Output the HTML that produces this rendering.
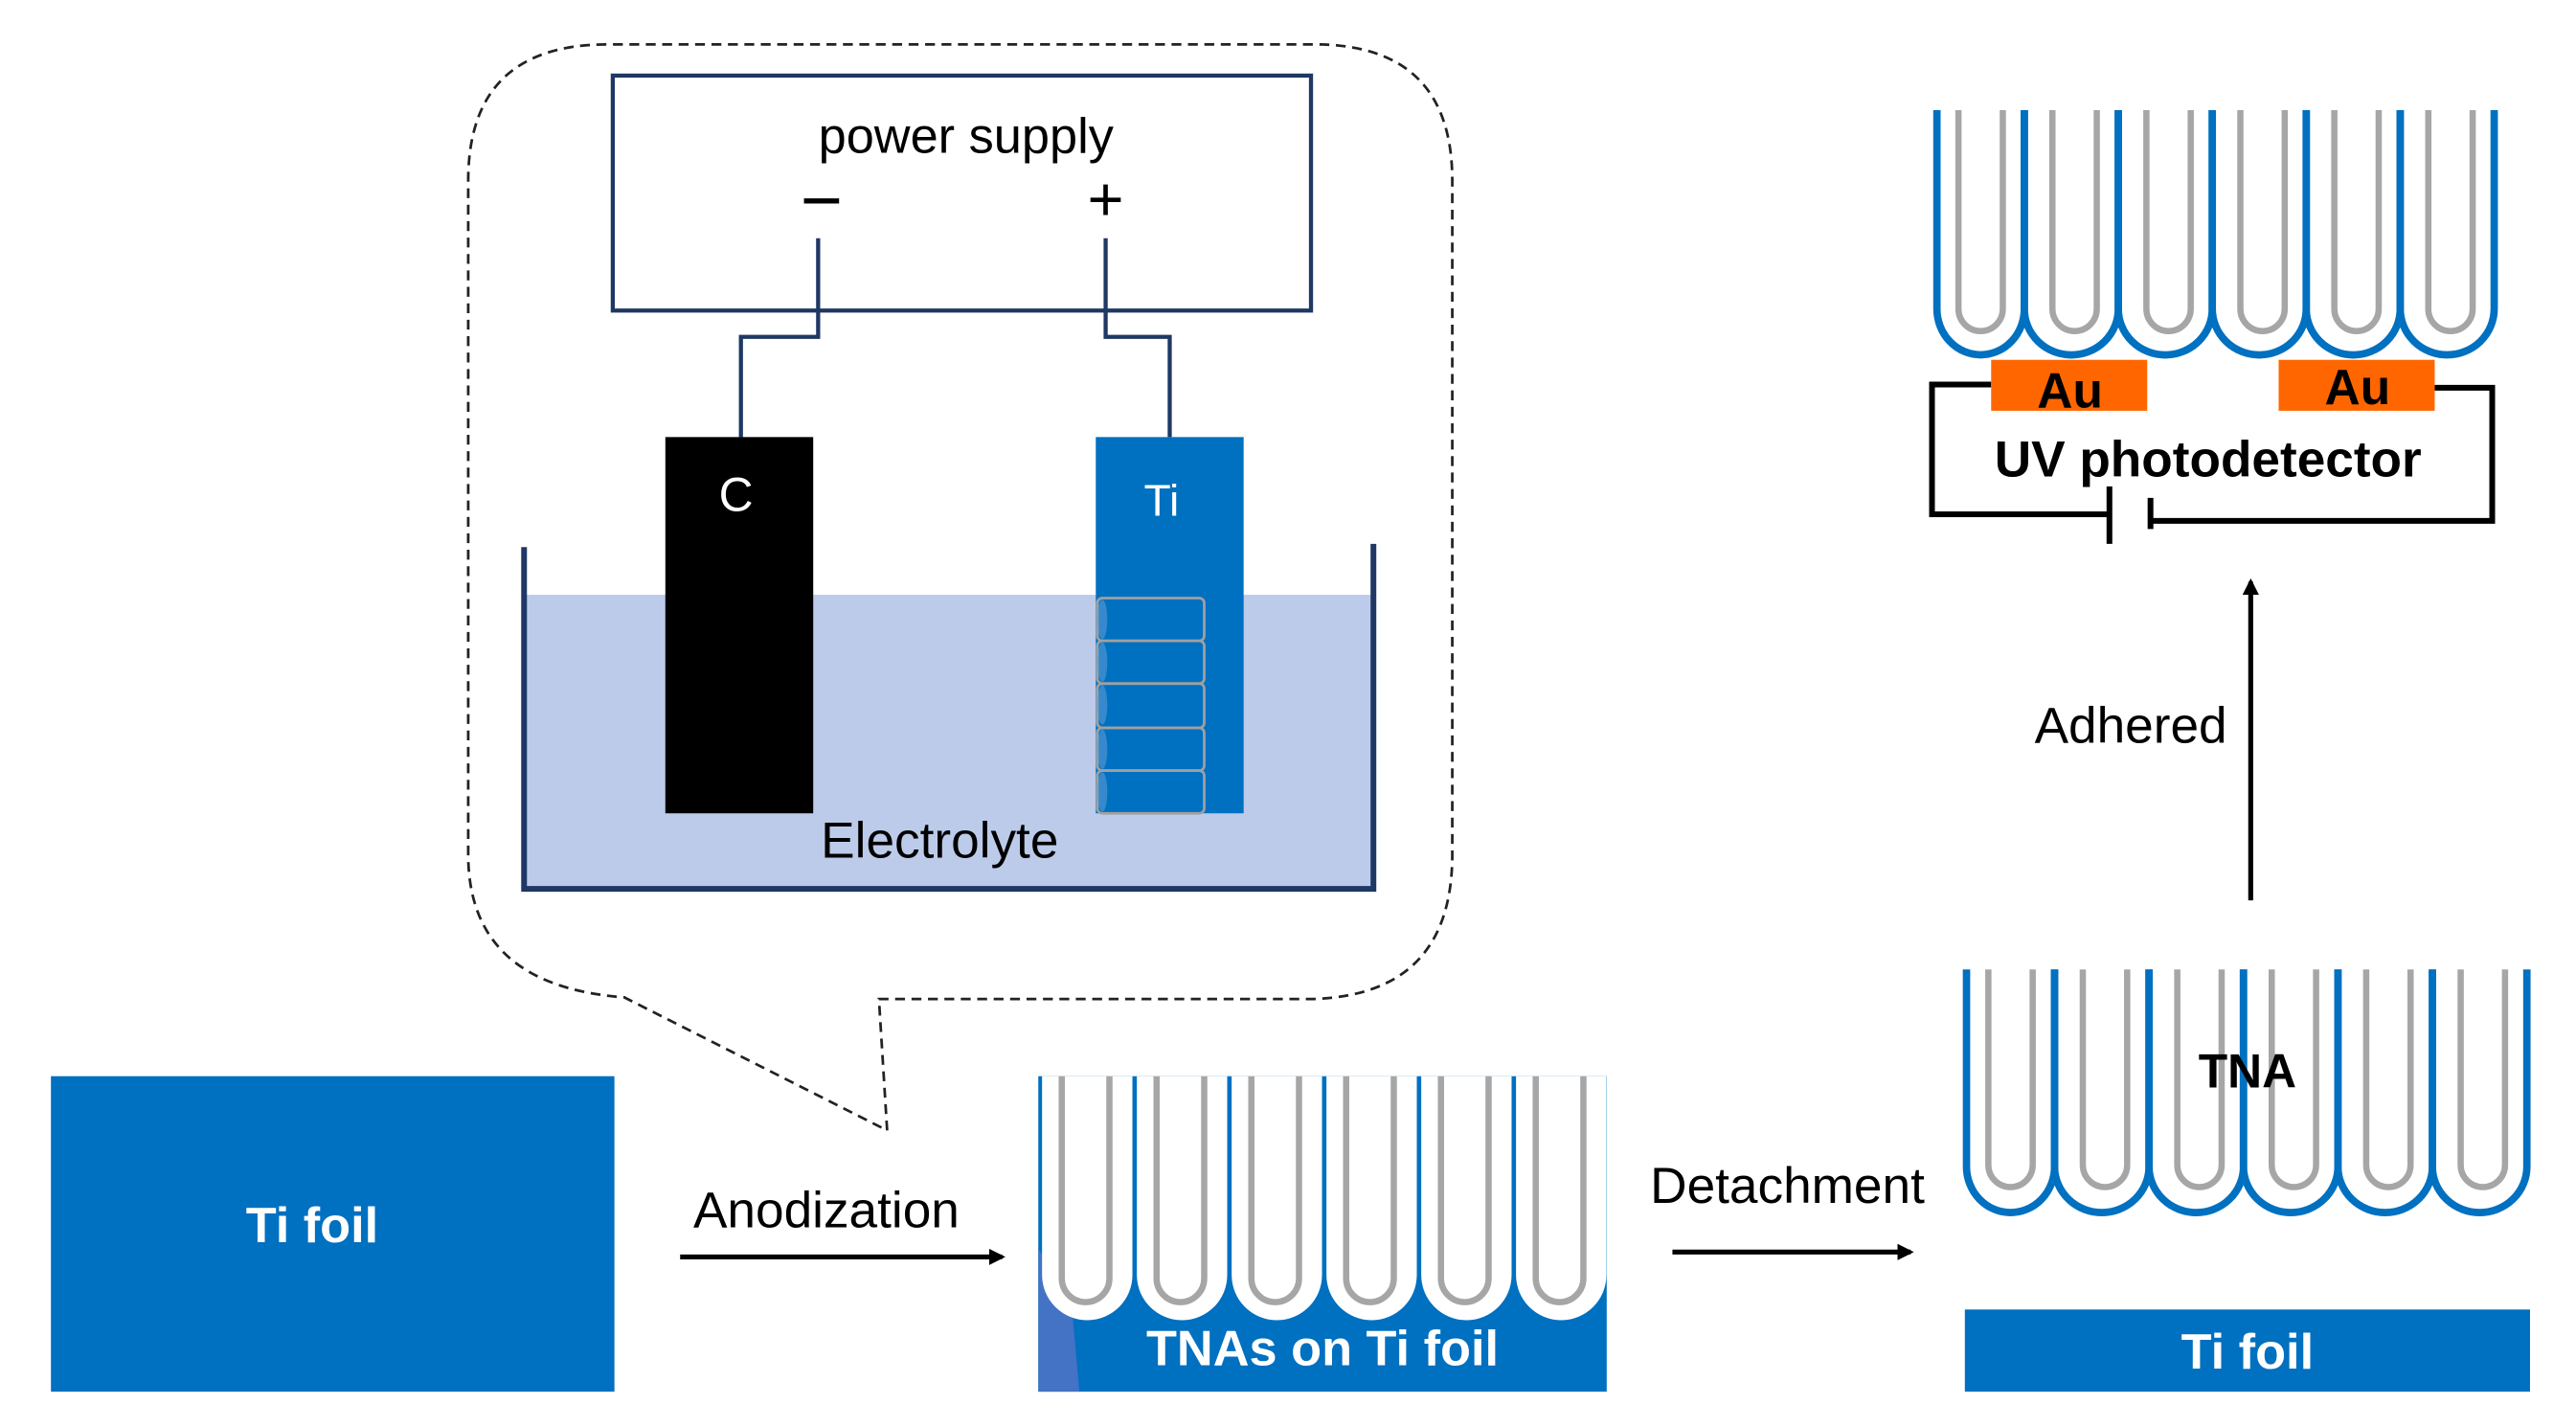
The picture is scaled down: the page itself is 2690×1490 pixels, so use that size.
<!DOCTYPE html>
<html><head><meta charset="utf-8"><style>
html,body{margin:0;padding:0;background:#fff;}
svg{display:block;}
text{font-family:"Liberation Sans",Arial,sans-serif;}
</style></head><body>
<svg width="2690" height="1490" viewBox="0 0 1568 868.5" xmlns="http://www.w3.org/2000/svg">
<defs>
<marker id="ah" markerWidth="10" markerHeight="10" refX="8" refY="5" orient="auto" markerUnits="userSpaceOnUse"><path d="M0,0 L10,5 L0,10 Z" fill="#000"/></marker>
</defs>
<rect width="1568" height="868.5" fill="#fff"/>

<!-- callout -->
<path d="M540,688 L535,608 L800,608 Q884,605 884,520 L884,110 Q884,27 800,27 L370,27 Q285,27 285,110 L285,520 Q285,600 380,607 Z" fill="none" stroke="#222" stroke-width="1.6" stroke-dasharray="6,4"/>

<!-- power supply -->
<rect x="373" y="46" width="425" height="143" fill="none" stroke="#1f3864" stroke-width="2.5"/>
<text x="588" y="93" font-size="30.5" text-anchor="middle">power supply</text>
<text x="500" y="137" font-size="44" text-anchor="middle">−</text>
<text x="673" y="134" font-size="38" text-anchor="middle">+</text>
<polyline points="498,145 498,205 451,205 451,266" fill="none" stroke="#1f3864" stroke-width="2.5"/>
<polyline points="673,145 673,205 712,205 712,266" fill="none" stroke="#1f3864" stroke-width="2.5"/>

<!-- electrolyte -->
<rect x="319" y="362" width="517" height="179" fill="#bccbe9"/>
<polyline points="319,333 319,541 836,541 836,331" fill="none" stroke="#1f3864" stroke-width="3.5"/>
<rect x="405" y="266" width="90" height="229" fill="#000"/>
<text x="448" y="311" font-size="29" fill="#fff" text-anchor="middle">C</text>
<rect x="667" y="266" width="90" height="229" fill="#0070c0"/>
<text x="707" y="314" font-size="27" fill="#fff" text-anchor="middle">Ti</text>
<g fill="none" stroke="#a0a0a0" stroke-width="1.6">
<rect x="668" y="364" width="65" height="26" rx="3"/>
<rect x="668" y="390" width="65" height="26" rx="3"/>
<rect x="668" y="416" width="65" height="27" rx="3"/>
<rect x="668" y="443" width="65" height="26" rx="3"/>
<rect x="668" y="469" width="65" height="26" rx="3"/>
</g>
<g fill="#5b9bd5" opacity="0.6">
<ellipse cx="671" cy="377" rx="3" ry="12"/><ellipse cx="671" cy="403" rx="3" ry="12"/><ellipse cx="671" cy="429" rx="3" ry="12"/><ellipse cx="671" cy="456" rx="3" ry="12"/><ellipse cx="671" cy="482" rx="3" ry="12"/>
</g>
<text x="572" y="522" font-size="31" text-anchor="middle">Electrolyte</text>

<!-- Ti foil -->
<rect x="31" y="655" width="343" height="192" fill="#0070c0"/>
<text x="190" y="756" font-size="30.5" font-weight="bold" fill="#fff" text-anchor="middle">Ti foil</text>

<!-- Anodization -->
<line x1="414" y1="765" x2="610" y2="765" stroke="#000" stroke-width="3" marker-end="url(#ah)"/>
<text x="503" y="747" font-size="31" text-anchor="middle">Anodization</text>

<!-- TNAs on Ti foil -->
<rect x="632" y="655" width="346" height="192" fill="#0070c0"/>
<path d="M632,760 L652,790 L657,847 L632,847 Z" fill="#4472c4"/>
<g fill="#fff">
<path d="M634.3,655 V776 A27.5,27.5 0 0 0 689.3,776 V655 Z"/>
<path d="M692,655 V776 A27.5,27.5 0 0 0 747,776 V655 Z"/>
<path d="M749.7,655 V776 A27.5,27.5 0 0 0 804.7,776 V655 Z"/>
<path d="M807.4,655 V776 A27.5,27.5 0 0 0 862.4,776 V655 Z"/>
<path d="M865.1,655 V776 A27.5,27.5 0 0 0 920.1,776 V655 Z"/>
<path d="M922.8,655 V776 A27.5,27.5 0 0 0 977.8,776 V655 Z"/>
</g>
<g fill="none" stroke="#a6a6a6" stroke-width="3.8">
<path d="M646.3,655 V778 A14.5,14.5 0 0 0 675.3,778 V655"/>
<path d="M704,655 V778 A14.5,14.5 0 0 0 733,778 V655"/>
<path d="M761.7,655 V778 A14.5,14.5 0 0 0 790.7,778 V655"/>
<path d="M819.4,655 V778 A14.5,14.5 0 0 0 848.4,778 V655"/>
<path d="M877.1,655 V778 A14.5,14.5 0 0 0 906.1,778 V655"/>
<path d="M934.8,655 V778 A14.5,14.5 0 0 0 963.8,778 V655"/>
</g>
<text x="805" y="831" font-size="30.5" font-weight="bold" fill="#fff" text-anchor="middle">TNAs on Ti foil</text>

<!-- Detachment -->
<line x1="1018" y1="762" x2="1163" y2="762" stroke="#000" stroke-width="3" marker-end="url(#ah)"/>
<text x="1088" y="732" font-size="31" text-anchor="middle">Detachment</text>

<!-- free TNA -->
<g fill="none" stroke="#a6a6a6" stroke-width="3.8">
<path d="M1210.3,590 V709 A13.5,13.5 0 0 0 1237.3,709 V590"/>
<path d="M1267.8,590 V709 A13.5,13.5 0 0 0 1294.8,709 V590"/>
<path d="M1325.3,590 V709 A13.5,13.5 0 0 0 1352.3,709 V590"/>
<path d="M1382.8,590 V709 A13.5,13.5 0 0 0 1409.8,709 V590"/>
<path d="M1440.3,590 V709 A13.5,13.5 0 0 0 1467.3,709 V590"/>
<path d="M1497.8,590 V709 A13.5,13.5 0 0 0 1524.8,709 V590"/>
</g>
<g fill="none" stroke="#0070c0" stroke-width="4.5">
<path d="M1197,590 V710 A26.8,28 0 0 0 1250.6,710 V590"/>
<path d="M1250.6,590 V710 A28.75,28 0 0 0 1308.1,710 V590"/>
<path d="M1308.1,590 V710 A28.75,28 0 0 0 1365.6,710 V590"/>
<path d="M1365.6,590 V710 A28.75,28 0 0 0 1423.1,710 V590"/>
<path d="M1423.1,590 V710 A28.75,28 0 0 0 1480.6,710 V590"/>
<path d="M1480.6,590 V710 A28.75,28 0 0 0 1538.1,710 V590"/>
</g>
<text x="1368" y="662" font-size="29" font-weight="bold" fill="#000" text-anchor="middle">TNA</text>
<rect x="1196" y="797" width="344" height="50" fill="#0070c0"/>
<text x="1368" y="833" font-size="30.5" font-weight="bold" fill="#fff" text-anchor="middle">Ti foil</text>

<!-- Adhered -->
<line x1="1370" y1="548" x2="1370" y2="354" stroke="#000" stroke-width="3" marker-end="url(#ah)"/>
<text x="1297" y="452" font-size="31" text-anchor="middle">Adhered</text>

<!-- top TNA -->
<g fill="none" stroke="#a6a6a6" stroke-width="3.8">
<path d="M1192.1,67 V188 A13.5,13.5 0 0 0 1219.1,188 V67"/>
<path d="M1249.3,67 V188 A13.5,13.5 0 0 0 1276.3,188 V67"/>
<path d="M1306.5,67 V188 A13.5,13.5 0 0 0 1333.5,188 V67"/>
<path d="M1363.7,67 V188 A13.5,13.5 0 0 0 1390.7,188 V67"/>
<path d="M1420.9,67 V188 A13.5,13.5 0 0 0 1447.9,188 V67"/>
<path d="M1478.1,67 V188 A13.5,13.5 0 0 0 1505.1,188 V67"/>
</g>
<g fill="none" stroke="#0070c0" stroke-width="4.5">
<path d="M1179,67 V188 A26.6,28 0 0 0 1232.2,188 V67"/>
<path d="M1232.2,67 V188 A28.6,28 0 0 0 1289.4,188 V67"/>
<path d="M1289.4,67 V188 A28.6,28 0 0 0 1346.6,188 V67"/>
<path d="M1346.6,67 V188 A28.6,28 0 0 0 1403.8,188 V67"/>
<path d="M1403.8,67 V188 A28.6,28 0 0 0 1461,188 V67"/>
<path d="M1461,67 V188 A28.6,28 0 0 0 1518.2,188 V67"/>
</g>
<!-- circuit -->
<g fill="none" stroke="#000" stroke-width="3.5">
<polyline points="1212,234 1176,234 1176,313 1284,313"/>
<line x1="1284" y1="296" x2="1284" y2="331"/>
<line x1="1309" y1="303" x2="1309" y2="322"/>
<polyline points="1309,317 1517,317 1517,236 1482,236"/>
</g>
<rect x="1212" y="219" width="95" height="31" fill="#ff6600"/>
<rect x="1387" y="219" width="95" height="31" fill="#ff6600"/>
<text x="1260" y="248" font-size="30" font-weight="bold" text-anchor="middle">Au</text>
<text x="1435" y="246" font-size="30" font-weight="bold" text-anchor="middle">Au</text>
<text x="1344" y="290" font-size="31" font-weight="bold" text-anchor="middle">UV photodetector</text>
</svg>
</body></html>
